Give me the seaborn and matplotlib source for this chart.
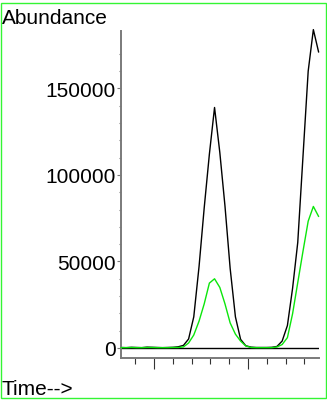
"""
Cromatograma: abundância ao longo do tempo (dois traços, preto e verde).
"""

import matplotlib
matplotlib.use("Agg")
import matplotlib.pyplot as plt
from matplotlib.patches import Rectangle
from matplotlib.ticker import FixedLocator, NullFormatter
import seaborn as sns

# ---------------------------------------------------------------------------
# Dados
# ---------------------------------------------------------------------------
TEMPO = [4.649, 4.704, 4.760, 4.815, 4.870, 4.926, 4.981, 5.036, 5.091, 5.147,
         5.202, 5.257, 5.313, 5.368, 5.423, 5.479, 5.534, 5.589, 5.644, 5.700,
         5.755, 5.810, 5.866, 5.921, 5.976, 6.032, 6.087, 6.142, 6.197, 6.253,
         6.308, 6.363, 6.419, 6.474, 6.529, 6.585, 6.640, 6.695, 6.751]

ABUNDANCIA_PRETO = [300, 200, 400, 300, 200, 500, 400, 300, 200, 300,
                    400, 700, 1500, 5200, 18000, 47000, 81000, 112000, 139000, 113000,
                    82000, 46000, 18000, 5000, 1300, 500, 300, 300, 300, 400,
                    900, 4000, 13000, 34500, 61000, 111000, 160000, 184000, 171000]

ABUNDANCIA_VERDE = [200, 200, 300, 200, 200, 300, 300, 200, 200, 200,
                    300, 300, 600, 2900, 7500, 15500, 25500, 37500, 40000, 35000,
                    25500, 14500, 8000, 4000, 1200, 300, 200, 200, 200, 200,
                    600, 2000, 6000, 19800, 37800, 56000, 73300, 81800, 76000]

Y_MAIORES = [0, 50000, 100000, 150000]
Y_MENORES = [v for v in range(10000, 180000, 10000) if v % 50000 != 0]
X_MAIORES = [5.0, 6.0]
X_MENORES = [4.8, 5.2, 5.4, 5.6, 5.8, 6.2, 6.4, 6.6]

# ---------------------------------------------------------------------------
# Configuração
# ---------------------------------------------------------------------------
sns.set_style("white")
plt.rcParams["font.family"] = ["Liberation Sans", "DejaVu Sans"]
plt.rcParams["font.size"] = 15
plt.rcParams["text.color"] = "black"

LARG, ALT = 327, 402
VERDE = "#0be60b"
CINZA = "#7a7a7a"


def grafico_cromatograma():
    fig = plt.figure(figsize=(LARG / 100, ALT / 100), dpi=100)
    ax = fig.add_axes([121 / LARG, 1 - 359 / ALT, (319 - 121) / LARG, (359 - 32) / ALT])

    ax.axhline(0, color="black", lw=1.0, zorder=1)
    sns.lineplot(x=TEMPO, y=ABUNDANCIA_PRETO, color="black", lw=1.0,
                 estimator=None, ax=ax, zorder=2, clip_on=False)
    sns.lineplot(x=TEMPO, y=ABUNDANCIA_VERDE, color=VERDE, lw=1.0,
                 estimator=None, ax=ax, zorder=3, clip_on=False)

    ax.set_xlim(TEMPO[0], 6.755)
    ax.set_ylim(-5780, 183200)

    for lado in ["top", "right"]:
        ax.spines[lado].set_visible(False)
    for lado in ["left", "bottom"]:
        ax.spines[lado].set_color(CINZA)
        ax.spines[lado].set_linewidth(1.4)

    ax.yaxis.set_major_locator(FixedLocator(Y_MAIORES))
    ax.yaxis.set_minor_locator(FixedLocator(Y_MENORES))
    ax.set_yticklabels([str(v) for v in Y_MAIORES])
    ax.xaxis.set_major_locator(FixedLocator(X_MAIORES))
    ax.xaxis.set_minor_locator(FixedLocator(X_MENORES))
    ax.xaxis.set_major_formatter(NullFormatter())

    ax.tick_params(axis="y", which="major", left=True, length=3.0, width=0.8,
                   color=CINZA, pad=1.0, labelsize=15, labelcolor="black")
    ax.tick_params(axis="y", which="minor", left=True, length=1.6, width=0.8, color=CINZA)
    ax.tick_params(axis="x", which="major", bottom=True, length=8.0, width=0.8, color="#333333")
    ax.tick_params(axis="x", which="minor", bottom=True, length=4.3, width=0.8, color="#333333")
    ax.set_xlabel("")
    ax.set_ylabel("")

    fig.text(2 / LARG, 1 - 24 / ALT, "Abundance", ha="left", va="baseline",
             fontsize=15, color="black")
    fig.text(2 / LARG, 1 - 395 / ALT, "Time-->", ha="left", va="baseline",
             fontsize=15, color="black")

    borda = Rectangle((0.5 / LARG, 1 - 398.5 / ALT), 325.5 / LARG, 394.5 / ALT,
                      transform=fig.transFigure, fill=False, edgecolor="#33f533", lw=1.0)
    fig.patches.append(borda)

    fig.savefig("out.png", dpi=100)
    plt.close(fig)


if __name__ == "__main__":
    grafico_cromatograma()
